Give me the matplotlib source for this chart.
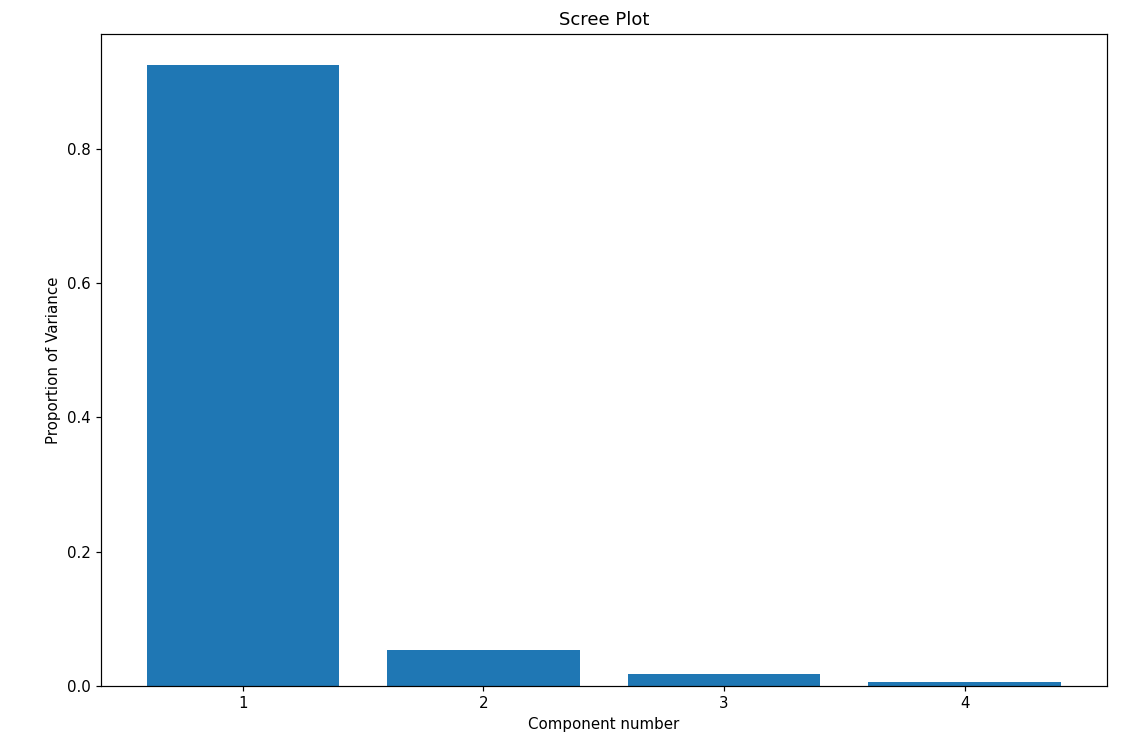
import numpy as np
import matplotlib
matplotlib.use("Agg")
import matplotlib.pyplot as plt

# explained variance ratio per component
components = [1, 2, 3, 4]
variance = [0.9246, 0.0531, 0.0171, 0.0052]

dpi = 108
fig = plt.figure(figsize=(1128 / dpi, 744 / dpi), dpi=dpi)
ax = fig.add_axes([0.0895, 0.078, 0.8915, 0.876])
ax.bar(components, variance, color='#1f77b4')
ax.set_xticks(components)
ax.set_title('Scree Plot')
ax.set_xlabel('Component number')
ax.set_ylabel('Proportion of Variance')

fig.savefig('out.png', dpi=dpi)
